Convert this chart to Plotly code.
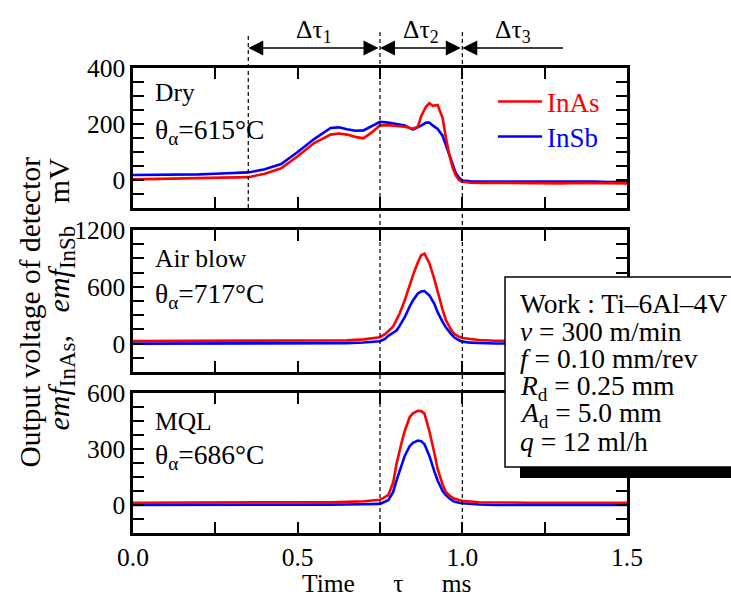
import plotly.graph_objects as go

FONT = "Liberation Serif"
RED = "#ff0000"
BLUE = "#0000ff"

# ---------------- data ----------------
t_dry = [0, 0.05, 0.1, 0.15, 0.2, 0.25, 0.3, 0.35, 0.4, 0.45, 0.5, 0.55, 0.6, 0.625,
         0.65, 0.675, 0.7, 0.725, 0.75, 0.775, 0.8, 0.825, 0.85, 0.865, 0.875, 0.89,
         0.9, 0.91, 0.925, 0.94, 0.95, 0.96, 0.97, 0.98, 0.99, 1.0, 1.025, 1.05, 1.1,
         1.15, 1.2, 1.25, 1.3, 1.35, 1.4, 1.45, 1.5]
inas_dry = [2, 3, 4, 5, 6, 7, 8, 10, 22, 42, 85, 132, 162, 166, 162, 154, 149, 170, 195,
            196, 193, 190, 183, 190, 228, 262, 274, 265, 268, 222, 152, 92, 46, 16, 0, -6,
            -10, -11, -10, -11, -10, -11, -12, -11, -12, -13, -12]
insb_dry = [18, 18, 20, 19, 20, 22, 24, 27, 38, 57, 100, 146, 186, 188, 181, 176, 177,
            192, 208, 205, 200, 195, 180, 188, 194, 205, 205, 195, 182, 158, 125, 88, 55,
            25, 8, -2, -5, -5, -4, -6, -4, -5, -6, -5, -6, -7, -6]

t_air = [0, 0.1, 0.2, 0.3, 0.4, 0.5, 0.6, 0.65, 0.7, 0.725, 0.75, 0.765, 0.775, 0.79,
         0.8, 0.81, 0.825, 0.84, 0.85, 0.865, 0.875, 0.885, 0.9, 0.915, 0.925, 0.94,
         0.95, 0.965, 0.975, 0.99, 1.0, 1.025, 1.05, 1.1, 1.2, 1.3, 1.4, 1.5]
inas_air = [28, 28, 28, 28, 28, 28, 30, 34, 45, 55, 68, 100, 135, 180, 250, 320, 456,
            620, 721, 860, 933, 950, 850, 680, 540, 360, 250, 150, 105, 72, 60, 45, 38,
            30, 28, 28, 28, 28]
insb_air = [0, 0, 0, 0, 0, 0, 2, 5, 12, 18, 25, 50, 82, 115, 138, 190, 279, 390, 456,
            530, 551, 555, 509, 420, 332, 230, 173, 105, 67, 35, 21, 10, 5, 2, 0, 0, 0, 0]

t_mql = [0, 0.1, 0.2, 0.3, 0.4, 0.5, 0.6, 0.65, 0.7, 0.75, 0.775, 0.79, 0.8, 0.815,
         0.825, 0.84, 0.85, 0.865, 0.875, 0.885, 0.9, 0.915, 0.925, 0.94, 0.95, 0.965,
         0.975, 0.99, 1.0, 1.05, 1.1, 1.2, 1.3, 1.4, 1.5]
inas_mql = [12, 12, 12, 12, 13, 14, 15, 17, 20, 28, 53, 120, 219, 330, 395, 470, 491,
            505, 503, 490, 395, 280, 193, 110, 70, 45, 35, 27, 23, 15, 13, 12, 12, 12, 12]
insb_mql = [0, 0, -2, 0, 0, 0, 2, 3, 4, 6, 26, 70, 131, 210, 263, 315, 333, 345, 342,
            325, 263, 180, 131, 75, 53, 30, 18, 12, 9, 3, 0, 0, 0, -2, 0]

panel_t = [t_dry, t_air, t_mql]
panel_inas = [inas_dry, inas_air, inas_mql]
panel_insb = [insb_dry, insb_air, insb_mql]
panel_names = ["Dry", "Air blow", "MQL"]
panel_temps = ["615", "717", "686"]
y_ranges = [[-100, 400], [-300, 1200], [-150, 600]]
y_dticks = [200, 600, 300]
y_minor = [50, 150, 75]
y_domains = [[0.699, 1.0], [0.3462, 0.6516], [0.0, 0.3011]]

x_range = [0, 1.5]
x_dtick = 0.5
x_minor = 0.25
NB = "\u00a0"
x_title = "Time" + NB * 6 + "τ" + NB * 6 + "ms"

series_names = ["InAs", "InSb"]
series_colors = [RED, BLUE]

# interval markers (ms)
tau_bounds = [0.35, 0.75, 1.0]
tau3_end = 1.31
tau_labels = ["Δτ<sub>1</sub>", "Δτ<sub>2</sub>", "Δτ<sub>3</sub>"]

info_lines = [
    "Work : Ti–6Al–4V",
    "<i>v</i> = 300 m/min",
    "<i>f</i> = 0.10 mm/rev",
    "<i>R</i><sub>d</sub> = 0.25 mm",
    "<i>A</i><sub>d</sub> = 5.0 mm",
    "<i>q</i> = 12 ml/h",
]

# ---------------- figure ----------------
W, H = 731, 598
ML, MR, MT, MB = 133, 104, 68, 65
PH = H - MT - MB
PW = W - ML - MR


def py(pix):
    """pixel row -> paper y"""
    return (H - MB - pix) / PH


def px(pix):
    return (pix - ML) / PW


fig = go.Figure()

for i in range(3):
    xa = "x" if i == 0 else f"x{i+1}"
    ya = "y" if i == 0 else f"y{i+1}"
    for name, col, vals, lg in [(series_names[1], series_colors[1], panel_insb[i], "legend2"),
                                (series_names[0], series_colors[0], panel_inas[i], "legend")]:
        fig.add_trace(go.Scatter(
            x=panel_t[i], y=vals, mode="lines", xaxis=xa, yaxis=ya,
            line=dict(color=col, width=2.6),
            name=f'<span style="color:{col}">{name}</span>',
            legend=lg,
            showlegend=(i == 0),
        ))

axis_common = dict(
    showline=True, linecolor="black", linewidth=2.5, mirror="ticks",
    ticks="inside", ticklen=11, tickwidth=1.5, tickcolor="black",
    showgrid=False, zeroline=False, automargin=False,
    tickfont=dict(family=FONT, size=25.5, color="black"),
)

legend_common = dict(xanchor="left", yanchor="middle", bgcolor="rgba(0,0,0,0)",
                     font=dict(family=FONT, size=27), itemwidth=44)

layout = dict(
    width=W, height=H,
    margin=dict(l=ML, r=MR, t=MT, b=MB, autoexpand=False),
    paper_bgcolor="white", plot_bgcolor="white",
    font=dict(family=FONT, size=25, color="black"),
    legend=dict(legend_common, x=px(493), y=py(102)),
    legend2=dict(legend_common, x=px(493), y=py(137)),
    showlegend=True,
)

for i in range(3):
    xk = "xaxis" if i == 0 else f"xaxis{i+1}"
    yk = "yaxis" if i == 0 else f"yaxis{i+1}"
    yanchor = "y" if i == 0 else f"y{i+1}"
    xanchor = "x" if i == 0 else f"x{i+1}"
    layout[xk] = dict(axis_common, range=x_range, dtick=x_dtick, tick0=0,
                      minor=dict(dtick=x_minor, ticks="inside", ticklen=11,
                                 tickwidth=1.5, tickcolor="black"),
                      showticklabels=(i == 2), anchor=yanchor,
                      tickformat=".1f", domain=[0, 1])
    if i > 0:
        layout[xk]["matches"] = "x"
    layout[yk] = dict(axis_common, range=y_ranges[i], dtick=y_dticks[i], tick0=0,
                      minor=dict(dtick=y_minor[i], ticks="inside", ticklen=11,
                                 tickwidth=1.5, tickcolor="black"),
                      domain=y_domains[i], anchor=xanchor)

fig.update_layout(**layout)

# x title
fig.add_annotation(x=px(386), y=py(583), xref="paper", yref="paper", text=x_title,
                   showarrow=False, xanchor="center", yanchor="middle",
                   font=dict(family=FONT, size=25.5))

# ---------------- dashed interval lines ----------------
dash_style = dict(color="black", width=1.2, dash="4px,3px")
fig.add_shape(type="line", xref="x", yref="paper", x0=tau_bounds[0], x1=tau_bounds[0],
              y0=py(208), y1=py(35), line=dash_style)
for tb in tau_bounds[1:]:
    fig.add_shape(type="line", xref="x", yref="paper", x0=tb, x1=tb,
                  y0=0, y1=py(32), line=dash_style)

# arrows
arrow_y = py(48)
arrow_common = dict(xref="x", yref="paper", axref="x", ayref="pixel", ay=0, text="",
                    showarrow=True, arrowhead=2, startarrowhead=2, arrowsize=2,
                    startarrowsize=2, arrowwidth=1.5, arrowcolor="black",
                    standoff=0, startstandoff=0)
fig.add_annotation(x=tau_bounds[0], ax=tau_bounds[1], y=arrow_y,
                   arrowside="end+start", **arrow_common)
fig.add_annotation(x=tau_bounds[1], ax=tau_bounds[2], y=arrow_y,
                   arrowside="end+start", **arrow_common)
fig.add_annotation(x=tau_bounds[2], ax=tau3_end, y=arrow_y,
                   arrowside="end", **arrow_common)

label_x = [(tau_bounds[0] + tau_bounds[1]) / 2, (tau_bounds[1] + tau_bounds[2]) / 2,
           1.154]
for lx, lt in zip(label_x, tau_labels):
    fig.add_annotation(x=lx, y=py(31), xref="x", yref="paper", text=lt,
                       showarrow=False, xanchor="center", yanchor="middle",
                       font=dict(family=FONT, size=25.5))

# ---------------- panel labels ----------------
name_y = [py(92), py(258), py(421)]
temp_y = [py(131), py(295), py(456)]
for i in range(3):
    fig.add_annotation(x=px(153), y=name_y[i], xref="paper", yref="paper",
                       text=panel_names[i], showarrow=False, xanchor="left",
                       yanchor="middle", font=dict(family=FONT, size=25.5))
    fig.add_annotation(x=px(153), y=temp_y[i], xref="paper", yref="paper",
                       text=f"θ<sub>α</sub>={panel_temps[i]}°C", showarrow=False,
                       xanchor="left", yanchor="middle",
                       font=dict(family=FONT, size=27.5))

# ---------------- y title ----------------
fig.add_annotation(x=px(29), y=py(155), xref="paper", yref="paper",
                   text="Output voltage of detector", textangle=-90,
                   showarrow=False, xanchor="center", yanchor="top",
                   font=dict(family=FONT, size=29.5))
SUBSZ = 'style="font-size:23px"'
fig.add_annotation(x=px(60), y=py(156), xref="paper", yref="paper",
                   text=f"<i>emf</i><sub><span {SUBSZ}>InAs</span></sub>,"
                        + NB * 3
                        + f"<i>emf</i><sub><span {SUBSZ}>InSb</span></sub>"
                        + NB * 3 + "mV",
                   textangle=-90, showarrow=False, xanchor="center", yanchor="top",
                   font=dict(family=FONT, size=30))

# ---------------- info box ----------------
fig.add_shape(type="rect", xref="paper", yref="paper", x0=px(520), x1=px(800),
              y0=py(478), y1=py(290), fillcolor="black", line=dict(width=0),
              layer="above")
fig.add_shape(type="rect", xref="paper", yref="paper", x0=px(505), x1=px(790),
              y0=py(467), y1=py(277), fillcolor="white",
              line=dict(color="black", width=1.5), layer="above")
info_y = [303, 331, 358, 387, 414, 441]
for yy, txt in zip(info_y, info_lines):
    fig.add_annotation(x=px(518), y=py(yy), xref="paper", yref="paper", text=txt,
                       showarrow=False, xanchor="left", yanchor="middle",
                       font=dict(family=FONT, size=27.5))

fig.write_html("out.html", config={"displayModeBar": False},
               post_script="document.body.style.margin='0';")
